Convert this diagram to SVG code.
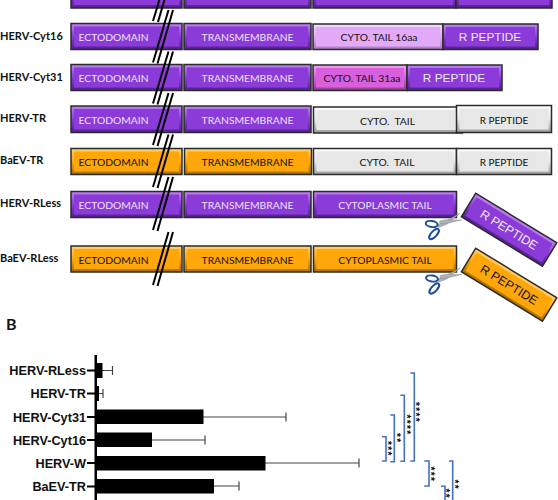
<svg xmlns="http://www.w3.org/2000/svg" width="558" height="500" viewBox="0 0 558 500">
<style>
text{font-family:"Lato","Open Sans",sans-serif}
.o{stroke:#2b2b2b;stroke-width:1.5}
.i{stroke:none}
.pO{fill:url(#gp)}.pI{fill:#8a3bd8}
.aO{fill:url(#ga)}.aI{fill:#ffa70a}
.gO{fill:url(#gg)}.gI{fill:#e7e7e7}
.lO{fill:url(#gl)}.lI{fill:#e3aafa}
.mO{fill:url(#gm)}.mI{fill:#d860dc}
.w{fill:#f0e2fc;font-size:10.300px;text-anchor:middle}
.k{fill:#111;font-size:10.300px;text-anchor:middle}
.rw{fill:#f3e9fc;font-family:"Liberation Sans",Arial,sans-serif;font-size:11.800px;text-anchor:middle}
.rk{fill:#111;font-size:10px;text-anchor:middle}
.rr{fill:#111;font-family:"Liberation Sans",Arial,sans-serif;font-size:12.300px;text-anchor:middle}
.n{font-weight:700;font-size:11px;fill:#111}
.c{font-family:"Liberation Sans",Arial,sans-serif;font-weight:700;font-size:12.700px;fill:#111;text-anchor:end}
.s{font-family:"Liberation Sans",Arial,sans-serif;font-weight:700;font-size:10px;letter-spacing:1.400px;fill:#111}
.sl{stroke:#000;stroke-width:2;fill:none}
.br{stroke:#4472c4;stroke-width:1.600;fill:none}
.eb{stroke:#444;stroke-width:1.200;fill:none}
.bar{fill:#000}
.sb{fill:#b0b2b8;stroke:#7f8186;stroke-width:.4}
.sh{fill:#fff;stroke:#1f4e9c;stroke-width:2}
</style>
<defs>
<linearGradient id="gp" x1="0" y1="0" x2="0" y2="1"><stop offset="0" stop-color="#c183f2"/><stop offset=".5" stop-color="#8a3bd8"/><stop offset="1" stop-color="#53208f"/></linearGradient>
<linearGradient id="ga" x1="0" y1="0" x2="0" y2="1"><stop offset="0" stop-color="#ffd36e"/><stop offset=".5" stop-color="#ffa70a"/><stop offset="1" stop-color="#a86e00"/></linearGradient>
<linearGradient id="gg" x1="0" y1="0" x2="0" y2="1"><stop offset="0" stop-color="#fdfdfd"/><stop offset=".5" stop-color="#e7e7e7"/><stop offset="1" stop-color="#9a9a9a"/></linearGradient>
<linearGradient id="gl" x1="0" y1="0" x2="0" y2="1"><stop offset="0" stop-color="#f5ddfe"/><stop offset=".5" stop-color="#e3aafa"/><stop offset="1" stop-color="#a878c0"/></linearGradient>
<linearGradient id="gm" x1="0" y1="0" x2="0" y2="1"><stop offset="0" stop-color="#f0a4f2"/><stop offset=".5" stop-color="#d860dc"/><stop offset="1" stop-color="#903a92"/></linearGradient>
<g id="sc">
<path class="sb" d="M-1.500 -4.700L-17 3.500L-25 7L-23 9.500L-15 6.500Z"/>
<path class="sb" d="M.2 2L-16 1.800L-22 3L-21 6L-15 5.500Z"/>
<ellipse class="sh" cx="-29.800" cy="6" rx="6" ry="3" transform="rotate(8 -29.800 6)"/>
<ellipse class="sh" cx="-27.500" cy="16" rx="6.500" ry="2.800" transform="rotate(-48 -27.500 16)"/>
</g>
</defs>
<rect width="558" height="500" fill="#fff"/>

<g id="row-top">
<rect class="o pO" x="71" y="-20" width="111" height="28"/><rect class="i pI" x="74" y="-20" width="105" height="25"/>
<rect class="o pO" x="184" y="-20" width="127" height="28"/><rect class="i pI" x="187" y="-20" width="121" height="25"/>
<rect class="o pO" x="313" y="-20" width="143" height="28"/><rect class="i pI" x="316" y="-20" width="137" height="25"/>
<rect class="o pO" x="456" y="-20" width="96" height="28"/><rect class="i pI" x="459" y="-20" width="90" height="25"/>
</g>

<g id="row-herv-cyt16">
<text class="n" x="0" y="40">HERV-Cyt16</text>
<rect class="o pO" x="71" y="23.500" width="111" height="26"/><rect class="i pI" x="74" y="26.500" width="105" height="20"/><text class="w" x="113.500" y="41">ECTODOMAIN</text>
<rect class="o pO" x="184" y="23.500" width="127" height="26"/><rect class="i pI" x="187" y="26.500" width="121" height="20"/><text class="w" x="247.500" y="41">TRANSMEMBRANE</text>
<rect class="o lO" x="313" y="24" width="130" height="25.500"/><rect class="i lI" x="316" y="27" width="124" height="19.500"/><text class="k" x="379" y="41">CYTO. TAIL 16aa</text>
<rect class="o pO" x="443" y="24" width="95" height="25.500"/><rect class="i pI" x="446" y="27" width="89" height="19.500"/><text class="rw" x="490" y="41">R PEPTIDE</text>
</g>

<g id="row-herv-cyt31">
<text class="n" x="0" y="81">HERV-Cyt31</text>
<rect class="o pO" x="71" y="64.500" width="111" height="26"/><rect class="i pI" x="74" y="67.500" width="105" height="20"/><text class="w" x="113.500" y="82">ECTODOMAIN</text>
<rect class="o pO" x="184" y="64.500" width="127" height="26"/><rect class="i pI" x="187" y="67.500" width="121" height="20"/><text class="w" x="247.500" y="82">TRANSMEMBRANE</text>
<rect class="o mO" x="313" y="65" width="94" height="25.500"/><rect class="i mI" x="316" y="68" width="88" height="19.500"/><text class="k" x="362" y="82">CYTO. TAIL 31aa</text>
<rect class="o pO" x="407" y="65" width="95" height="25.500"/><rect class="i pI" x="410" y="68" width="89" height="19.500"/><text class="rw" x="454" y="81.500">R PEPTIDE</text>
</g>

<g id="row-herv-tr">
<text class="n" x="0" y="122">HERV-TR</text>
<rect class="o pO" x="71" y="106" width="111" height="26.500"/><rect class="i pI" x="74" y="109" width="105" height="20.500"/><text class="w" x="113.500" y="124">ECTODOMAIN</text>
<rect class="o pO" x="184" y="106" width="127" height="26.500"/><rect class="i pI" x="187" y="109" width="121" height="20.500"/><text class="w" x="247.500" y="124">TRANSMEMBRANE</text>
<rect class="o gO" x="313.500" y="107" width="149" height="26"/><rect class="i gI" x="316.500" y="110" width="143" height="20"/><text class="k" x="387.500" y="124.500" xml:space="preserve">CYTO.  TAIL</text>
<rect class="o gO" x="456.500" y="105.500" width="95" height="27"/><rect class="i gI" x="459.500" y="108.500" width="89" height="21"/><text class="rk" x="504" y="123.500">R PEPTIDE</text>
</g>

<g id="row-baev-tr">
<text class="n" x="0" y="164">BaEV-TR</text>
<rect class="o aO" x="71" y="148.500" width="111" height="26"/><rect class="i aI" x="74" y="151.500" width="105" height="20"/><text class="k" x="113.500" y="166">ECTODOMAIN</text>
<rect class="o aO" x="184.500" y="148.500" width="127" height="26"/><rect class="i aI" x="187.500" y="151.500" width="121" height="20"/><text class="k" x="247.500" y="166">TRANSMEMBRANE</text>
<rect class="o gO" x="313.500" y="148.500" width="143" height="26"/><rect class="i gI" x="316.500" y="151.500" width="137" height="20"/><text class="k" x="387" y="166" xml:space="preserve">CYTO.  TAIL</text>
<rect class="o gO" x="456.500" y="148.500" width="95" height="26"/><rect class="i gI" x="459.500" y="151.500" width="89" height="20"/><text class="rk" x="504" y="166">R PEPTIDE</text>
</g>

<g id="row-herv-rless">
<text class="n" x="0" y="207">HERV-RLess</text>
<rect class="o pO" x="71" y="191.500" width="111" height="26"/><rect class="i pI" x="74" y="194.500" width="105" height="20"/><text class="w" x="113.500" y="209">ECTODOMAIN</text>
<rect class="o pO" x="184" y="191.500" width="127" height="26"/><rect class="i pI" x="187" y="194.500" width="121" height="20"/><text class="w" x="247.500" y="209">TRANSMEMBRANE</text>
<rect class="o pO" x="313.500" y="191.500" width="143" height="26"/><rect class="i pI" x="316.500" y="194.500" width="137" height="20"/><text class="w" x="385" y="209">CYTOPLASMIC TAIL</text>
<use href="#sc" transform="translate(461.500 218)"/>
<g transform="translate(475.700 193.300) rotate(31.400)"><rect class="o pO" x="0" y="0" width="95" height="27.500"/><rect class="i pI" x="3" y="3" width="89" height="21.500"/><text class="rw" x="47.500" y="18" style="font-size:12.300px">R PEPTIDE</text></g>
</g>

<g id="row-baev-rless">
<text class="n" x="0" y="262">BaEV-RLess</text>
<rect class="o aO" x="71" y="246" width="111" height="26"/><rect class="i aI" x="74" y="249" width="105" height="20"/><text class="k" x="113.500" y="263.500">ECTODOMAIN</text>
<rect class="o aO" x="184" y="246" width="127" height="26"/><rect class="i aI" x="187" y="249" width="121" height="20"/><text class="k" x="247.500" y="263.500">TRANSMEMBRANE</text>
<rect class="o aO" x="313.500" y="246" width="143" height="26"/><rect class="i aI" x="316.500" y="249" width="137" height="20"/><text class="k" x="385" y="263.500">CYTOPLASMIC TAIL</text>
<use href="#sc" transform="translate(461.800 272.500)"/>
<g transform="translate(475.700 248.300) rotate(31.400)"><rect class="o aO" x="0" y="0" width="95" height="27.500"/><rect class="i aI" x="3" y="3" width="89" height="21.500"/><text class="rr" x="47.500" y="18">R PEPTIDE</text></g>
</g>

<g id="connectors">
<path class="sl" d="M153 21L160 -2M158 22L165 -2"/>
<path class="sl" d="M153 62.500L168.500 10M157.500 63.500L173 10"/>
<path class="sl" d="M153 103.500L168.500 51.500M157.500 104.500L173 51.500"/>
<path class="sl" d="M153 145L168.500 93M157.500 146L173 93"/>
<path class="sl" d="M153 187L168.500 134.500M157.500 188L173 134.500"/>
<path class="sl" d="M153 230L168.500 177M157.500 231L173 177"/>
<path class="sl" d="M153 285L168.500 232M157.500 286L173 232"/>
</g>

<text x="6" y="330" style="font-weight:700;font-size:16px;fill:#111">B</text>

<g id="chart">
<rect class="bar" x="94.500" y="355" width="2.500" height="145"/>
<g fill="#000">
<rect x="87" y="369.500" width="8" height="2"/><rect x="87" y="392.500" width="8" height="2"/><rect x="87" y="416" width="8" height="2"/><rect x="87" y="439" width="8" height="2"/><rect x="87" y="462" width="8" height="2"/><rect x="87" y="485.500" width="8" height="2"/>
</g>
<text class="c" x="86" y="375">HERV-RLess</text>
<text class="c" x="86" y="398">HERV-TR</text>
<text class="c" x="86" y="421.500">HERV-Cyt31</text>
<text class="c" x="86" y="444.500">HERV-Cyt16</text>
<text class="c" x="86" y="467.500">HERV-W</text>
<text class="c" x="86" y="491">BaEV-TR</text>
<path class="eb" d="M102 370.500H112.500M112.500 366V375M99 393.500H103M103 389V398M203 417H286M286 412.500V421.500M152 440H205M205 435.500V444.500M265 463H359M359 458.500V467.500M214 486H239M239 481.500V490.500"/>
<rect class="bar" x="95" y="363" width="7.500" height="15"/>
<rect class="bar" x="95" y="386" width="4" height="15"/>
<rect class="bar" x="95" y="409.500" width="108.500" height="14.500"/>
<rect class="bar" x="95" y="432.500" width="57" height="14.500"/>
<rect class="bar" x="95" y="456" width="170.500" height="14.500"/>
<rect class="bar" x="95" y="479" width="119" height="14.500"/>
</g>

<g id="significance">
<path class="br" d="M382 436.700H386V461H382"/>
<path class="br" d="M390.300 415H394.300V461.700H390.300"/>
<path class="br" d="M400.300 395.300H404.300V461.300H400.300"/>
<path class="br" d="M410.300 373H414.300V461H410.300"/>
<path class="br" d="M424.300 461H429V486H424.300"/>
<path class="br" d="M449 461H452.700V502"/>
<path class="br" d="M441 486.300H445V502"/>
<text class="s" transform="translate(384 441) rotate(90)">***</text>
<text class="s" transform="translate(392.500 433) rotate(90)">**</text>
<text class="s" transform="translate(403.300 414.500) rotate(90)">****</text>
<text class="s" transform="translate(412.300 402) rotate(90)">****</text>
<text class="s" transform="translate(427.300 466.500) rotate(90)">***</text>
<text class="s" transform="translate(450.700 479.500) rotate(90)">**</text>
<text class="s" transform="translate(442.300 488.500) rotate(90)">**</text>
</g>
</svg>
